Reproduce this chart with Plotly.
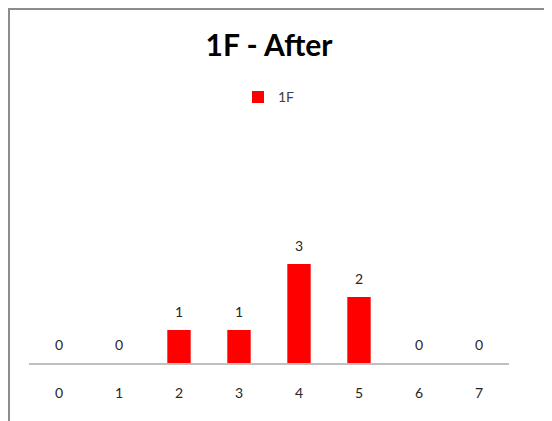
import plotly.graph_objects as go

# chart data
categories = [0, 1, 2, 3, 4, 5, 6, 7]
counts_1f = [0, 0, 1, 1, 3, 2, 0, 0]
series_name = "1F"
title_text = "1F - After"

FONT = "Lato, 'Open Sans', sans-serif"
BAR_RED = "#FF0000"

fig = go.Figure()

fig.add_trace(go.Bar(
    x=categories,
    y=counts_1f,
    name=series_name,
    marker=dict(color=BAR_RED, line=dict(width=0)),
    width=0.39,
    hoverinfo="x+y",
))

# value labels above each bar (zeros included)
for cat, val in zip(categories, counts_1f):
    fig.add_annotation(
        x=cat, y=val, text=str(val),
        showarrow=False, yshift=19,
        font=dict(family=FONT, size=14, color="#262626"),
    )

# outer chart frame (only left and top edges show in the crop)
fig.add_shape(
    type="rect", xref="paper", yref="paper",
    x0=-0.0417, x1=1.3, y0=-0.6, y1=1.519,
    line=dict(color="#8C8C8C", width=2),
    fillcolor="rgba(0,0,0,0)", layer="above",
)

# page body has an 8px margin, so the figure is offset by 8px
fig.update_layout(
    width=552,
    height=421,
    margin=dict(l=21, r=51, t=122, b=66),
    paper_bgcolor="white",
    plot_bgcolor="white",
    font=dict(family=FONT, color="#262626"),
    title=dict(
        text="<b>" + title_text + "</b>",
        x=0.5, xref="paper", xanchor="center",
        y=1 - 37 / 421, yref="container", yanchor="middle",
        font=dict(family=FONT, size=30, color="#000000"),
    ),
    showlegend=True,
    legend=dict(
        orientation="h",
        x=0.5, xanchor="center",
        y=1.14, yanchor="middle",
        font=dict(family=FONT, size=14, color="#404040"),
        itemwidth=30,
    ),
    bargap=0.6,
    xaxis=dict(
        type="linear",
        tickmode="array",
        tickvals=categories,
        ticktext=[str(c) for c in categories],
        range=[-0.5, 7.5],
        showgrid=False,
        zeroline=False,
        showline=True,
        linecolor="#BFBFBF",
        linewidth=1.5,
        ticks="",
        ticklabelstandoff=16,
        tickfont=dict(family=FONT, size=14, color="#262626"),
        fixedrange=True,
    ),
    yaxis=dict(
        range=[0, 233 / 33],
        visible=False,
        showgrid=False,
        zeroline=False,
        fixedrange=True,
    ),
)

fig.write_html("out.html")
